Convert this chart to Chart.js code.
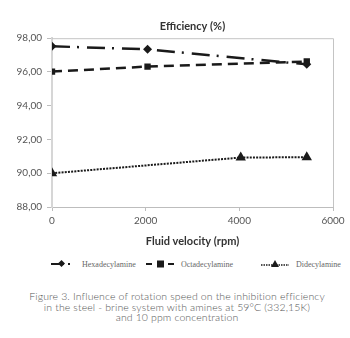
<!DOCTYPE html>
<html>
<head>
<meta charset="utf-8">
<script src="https://cdn.jsdelivr.net/npm/chart.js@4/dist/chart.umd.min.js"></script>
<style>
    html, body { margin: 0; padding: 0; background: #fff; width: 350px; height: 338px; overflow: hidden; }
    #wrap { position: absolute; left: 0; top: 0; width: 350px; height: 250px; }
    #legend { position: absolute; left: 0; top: 257px; width: 350px; height: 14px; font: 8px "Liberation Serif", serif; color: #666; }
    #legend .item { position: absolute; top: 0; height: 14px; display: flex; align-items: center; white-space: nowrap; }
    #legend svg { margin-right: 6px; }
    #caption { position: absolute; left: 0; top: 291px; width: 354px; text-align: center; font: 300 10.5px Lato, sans-serif; letter-spacing: 0.12px; color: #555; line-height: 10.6px; }
</style>
</head>
<body>
<div id="wrap"><canvas id="chart" width="350" height="250"></canvas></div>
<div id="legend"></div>
<div id="caption">Figure 3. Influence of rotation speed on the inhibition efficiency<br>in the steel - brine system with amines at 59°C (332,15K)<br>and 10 ppm concentration</div>
<script>
const seriesNames = ['Hexadecylamine', 'Octadecylamine', 'Didecylamine'];
const hexaRpm = [0, 2040, 5440];
const hexaEff = [97.52, 97.34, 96.45];
const octaRpm = [0, 2040, 5440];
const octaEff = [96.02, 96.32, 96.62];
const dideRpm = [0, 4030, 5440];
const dideEff = [90.0, 90.93, 90.95];
const yTicks = [88, 90, 92, 94, 96, 98];
const xTicks = [0, 2000, 4000, 6000];

const ink = '#1a1a1a';
const fmtComma = v => Number(v).toFixed(2).replace('.', ',');
const toPoints = (xs, ys) => xs.map((x, i) => ({ x, y: ys[i] }));

const styles = [
    { dash: [18, 7, 2, 8], point: 'rectRot', radius: 4.5 },
    { dash: [10, 6], point: 'rect', radius: 4.5 },
    { dash: [2, 1.2], point: 'triangle', radius: 6 }
];
const seriesData = [toPoints(hexaRpm, hexaEff), toPoints(octaRpm, octaEff), toPoints(dideRpm, dideEff)];

// light frame on top and right of the plot area
const framePlugin = {
    id: 'frame',
    beforeDatasetsDraw(chart) {
        const { ctx, chartArea: a } = chart;
        ctx.save();
        ctx.strokeStyle = '#c4c4c4';
        ctx.lineWidth = 1;
        ctx.beginPath();
        ctx.moveTo(a.left, a.top + 0.5);
        ctx.lineTo(a.right + 0.5, a.top + 0.5);
        ctx.lineTo(a.right + 0.5, a.bottom);
        ctx.stroke();
        ctx.restore();
    }
};

const chart = new Chart(document.getElementById('chart').getContext('2d'), {
    type: 'scatter',
    data: {
        datasets: seriesNames.map((name, i) => ({
            label: name,
            data: seriesData[i],
            showLine: true,
            borderColor: ink,
            backgroundColor: ink,
            borderWidth: i === 2 ? 2 : 2.5,
            borderDash: styles[i].dash,
            pointStyle: styles[i].point,
            pointRadius: styles[i].radius,
            pointBorderWidth: 0,
            pointBackgroundColor: ink
        }))
    },
    options: {
        responsive: false,
        animation: false,
        layout: { padding: { left: 0, right: 17, top: 0, bottom: 0 } },
        plugins: {
            legend: { display: false },
            tooltip: { enabled: false },
            title: {
                display: true,
                text: 'Efficiency (%)',
                fullSize: false,
                color: '#333',
                font: { family: 'Lato', size: 11, weight: 'bold', lineHeight: 1.2 },
                padding: { top: 20, bottom: 5 }
            }
        },
        scales: {
            x: {
                type: 'linear',
                min: 0,
                max: 6000,
                afterBuildTicks: scale => { scale.ticks = xTicks.map(value => ({ value })); },
                afterFit: scale => { scale.height = 43; },
                border: { color: '#bdbdbd', width: 1 },
                grid: { drawOnChartArea: false, drawTicks: true, tickLength: 4, tickColor: '#bdbdbd' },
                ticks: { color: '#555', font: { family: 'Lato', size: 10 }, padding: 4, maxRotation: 0, callback: v => String(v) },
                title: {
                    display: true,
                    text: 'Fluid velocity (rpm)',
                    color: '#333',
                    font: { family: 'Lato', size: 11, weight: 'bold' },
                    padding: { top: 0, bottom: 2 }
                }
            },
            y: {
                min: 88,
                max: 98,
                afterBuildTicks: scale => { scale.ticks = yTicks.map(value => ({ value })); },
                afterFit: scale => { scale.width = 52; },
                border: { color: '#d6d6d6', width: 2 },
                grid: { drawOnChartArea: false, drawTicks: true, tickLength: 5, tickColor: '#bdbdbd' },
                ticks: { color: '#555', font: { family: 'Lato', size: 10 }, padding: 5, callback: v => fmtComma(v) }
            }
        }
    },
    plugins: [framePlugin]
});

// legend below the chart, built from the datasets
const legendPos = [
    { left: 50, sample: 'hexa' },
    { left: 145, sample: 'octa' },
    { left: 260, sample: 'dide' }
];
const samples = {
    hexa: '<svg width="26" height="10"><line x1="1" y1="5" x2="14" y2="5" stroke="#1a1a1a" stroke-width="2"/><rect x="9" y="2" width="5" height="5" transform="rotate(45 11.5 4.5)" fill="#1a1a1a"/><rect x="18" y="4" width="2" height="2" fill="#1a1a1a"/></svg>',
    octa: '<svg width="30" height="10"><line x1="1" y1="5" x2="7" y2="5" stroke="#1a1a1a" stroke-width="2"/><rect x="12" y="1.5" width="7" height="7" fill="#1a1a1a"/><line x1="23" y1="5" x2="29" y2="5" stroke="#1a1a1a" stroke-width="2"/></svg>',
    dide: '<svg width="30" height="10"><line x1="1" y1="6" x2="29" y2="6" stroke="#1a1a1a" stroke-width="1.5" stroke-dasharray="1.5 1"/><polygon points="15,1 19,8 11,8" fill="#1a1a1a"/></svg>'
};
const legend = document.getElementById('legend');
chart.data.datasets.forEach((ds, i) => {
    const item = document.createElement('div');
    item.className = 'item';
    item.style.left = legendPos[i].left + 'px';
    item.innerHTML = samples[legendPos[i].sample] + '<span>' + ds.label + '</span>';
    legend.appendChild(item);
});
</script>
</body>
</html>
